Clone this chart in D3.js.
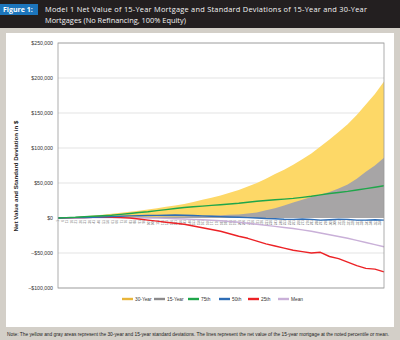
<!DOCTYPE html>
<html>
<head>
<meta charset="utf-8">
<script src="https://cdn.jsdelivr.net/npm/d3@7"></script>
<style>
  html, body { margin: 0; padding: 0; background: #d3cfc8; }
  svg { display: block; }
</style>
</head>
<body>
<div id="chart"></div>
<script>
///////// data //////////
const months      = d3.range(0, 361, 10).map(m => m === 0 ? 1 : m);
const sd30Year    = [0, 700, 1500, 2500, 3500, 4700, 6000, 7500, 9000, 10500, 12000, 14000, 16000, 18000, 20000, 23000, 26000, 29000, 32000, 36000, 40000, 45000, 50000, 56000, 63000, 69000, 76000, 84000, 92000, 102000, 112000, 123000, 134000, 147000, 162000, 177000, 195000];
const sd15Year    = [0, 100, 300, 400, 500, 600, 800, 900, 1000, 1200, 1500, 1700, 2000, 2200, 2500, 2700, 3000, 3500, 4000, 4500, 5000, 6500, 8000, 11000, 14000, 18000, 22000, 26000, 30000, 33500, 37000, 42000, 48000, 56000, 66000, 75000, 86000];
const pct75       = [0, 500, 1000, 1800, 2500, 3200, 4000, 5200, 6500, 7800, 9000, 10500, 12000, 13500, 15000, 16000, 17000, 18000, 19000, 20000, 21000, 22500, 24000, 25000, 26000, 27000, 28000, 29500, 31000, 33000, 35000, 36500, 38000, 40000, 42000, 44000, 46000];
const pct50       = [0, 200, 500, 800, 1000, 1500, 2000, 2500, 3000, 3300, 3500, 3800, 4000, 4200, 4000, 3500, 3000, 2500, 2000, 1500, 1000, 500, 0, -800, -1000, -1800, -2000, -1500, -2000, -3000, -2500, -1800, -2000, -3000, -3000, -2500, -3000];
const pct25       = [0, 300, 500, 800, 1000, 1200, 1000, 500, 0, -1500, -3000, -4500, -6000, -7500, -9000, -11500, -14000, -16500, -19000, -22500, -26000, -29000, -33000, -37000, -40000, -43000, -46000, -48000, -50000, -49000, -55000, -58000, -63000, -68000, -72000, -73000, -77000];
const meanValue   = [0, 0, 0, 300, 500, 500, 500, 500, 500, 300, 0, -200, -500, -1000, -1500, -2000, -2500, -3200, -4000, -5000, -6000, -7500, -9000, -10500, -12000, -13500, -15000, -17000, -19000, -21500, -24000, -26500, -29000, -32000, -35000, -38000, -41000];

const yTicks      = [-100000, -50000, 0, 50000, 100000, 150000, 200000, 250000];
const xTickMonths = d3.range(1, 360, 5);

const seriesLines = [
  {name: "Mean", values: meanValue, color: "#c9b0d8"},
  {name: "25th", values: pct25,     color: "#ec2226"},
  {name: "50th", values: pct50,     color: "#2e6db6"},
  {name: "75th", values: pct75,     color: "#1fa64a"},
];
const legendItems = [
  {name: "30-Year", color: "#e8b53a"},
  {name: "15-Year", color: "#8c8a8b"},
  {name: "75th",    color: "#1fa64a"},
  {name: "50th",    color: "#2e6db6"},
  {name: "25th",    color: "#ec2226"},
  {name: "Mean",    color: "#c9b0d8"},
];

////////////////////// drawing //////////////////////
const W = 400, H = 340;
const svg = d3.select("#chart").append("svg").attr("width", W).attr("height", H);

// header band
svg.append("rect").attr("x", 0).attr("y", 0).attr("width", W).attr("height", 28).attr("fill", "#231f20");
svg.append("rect").attr("x", 0).attr("y", 4).attr("width", 38).attr("height", 11).attr("fill", "#1c75bc");
svg.append("text").attr("x", 3).attr("y", 12.3).attr("fill", "#fff")
  .style("font", "bold 7px 'Open Sans', sans-serif").text("Figure 1:");
svg.append("text").attr("x", 45).attr("y", 12).attr("fill", "#f4f4f4")
  .attr("textLength", 322).attr("lengthAdjust", "spacing")
  .style("font", "7.4px 'Open Sans', sans-serif")
  .text("Model 1 Net Value of 15-Year Mortgage and Standard Deviations of 15-Year and 30-Year");
svg.append("text").attr("x", 45).attr("y", 23).attr("fill", "#f4f4f4")
  .style("font", "7.4px 'Open Sans', sans-serif")
  .text("Mortgages (No Refinancing, 100% Equity)");

// white panel
svg.append("rect").attr("x", 6).attr("y", 33).attr("width", 388).attr("height", 294).attr("fill", "#fff");

// scales
const plot = {left: 58, right: 384, top: 43, bottom: 288};
const x = d3.scaleLinear().domain([1, 360]).range([plot.left, plot.right]);
const y = d3.scaleLinear().domain([-100000, 250000]).range([plot.bottom, plot.top]);

// gridlines
svg.append("g").selectAll("line").data(yTicks.filter(d => d !== 0)).enter().append("line")
  .attr("x1", plot.left).attr("x2", plot.right)
  .attr("y1", d => y(d)).attr("y2", d => y(d))
  .attr("stroke", "#dcdcdc").attr("stroke-width", 0.8);

// y axis labels
const fmt = d => (d < 0 ? "\u2013$" : "$") + d3.format(",")(Math.abs(d));
svg.append("g").selectAll("text").data(yTicks).enter().append("text")
  .attr("x", 53).attr("y", d => y(d) + 1.8)
  .attr("text-anchor", "end").attr("fill", "#333")
  .style("font", "5.2px 'Liberation Sans Narrow', 'Liberation Sans', sans-serif")
  .text(fmt);

// y axis title
svg.append("text")
  .attr("transform", "translate(17.5," + 176 + ") rotate(-90)")
  .attr("text-anchor", "middle").attr("fill", "#222")
  .style("font", "bold 6.2px 'Liberation Sans Narrow', 'Liberation Sans', sans-serif")
  .text("Net Value and Standard Deviation in $");

// areas
const pts = arr => months.map((m, i) => [m, arr[i]]);
const area = d3.area().x(d => x(d[0])).y0(y(0)).y1(d => y(d[1]));
svg.append("path").datum(pts(sd30Year)).attr("d", area).attr("fill", "#fdd867");
svg.append("path").datum(pts(sd15Year)).attr("d", area).attr("fill", "#a7a5a6");

// x tick labels (rotated, just below zero line)
svg.append("g").selectAll("text").data(xTickMonths).enter().append("text")
  .attr("transform", d => "translate(" + (x(d) + 1.1) + "," + (y(0) + 2) + ") rotate(-90)")
  .attr("text-anchor", "end").attr("fill", "#666")
  .style("font", "3.2px 'Liberation Sans', sans-serif")
  .text(d => d);

// lines
const line = d3.line().x(d => x(d[0])).y(d => y(d[1]));
for (let s of seriesLines) {
  svg.append("path").datum(pts(s.values)).attr("d", line)
    .attr("fill", "none").attr("stroke", s.color).attr("stroke-width", 1.4)
    .attr("stroke-linejoin", "round");
}

// plot frame
svg.append("rect").attr("x", plot.left).attr("y", plot.top)
  .attr("width", plot.right - plot.left).attr("height", plot.bottom - plot.top)
  .attr("fill", "none").attr("stroke", "#9a9a9a").attr("stroke-width", 0.8);

// legend
const legendX = [122, 154, 188, 219, 248, 278];
const lg = svg.append("g").selectAll("g").data(legendItems).enter().append("g")
  .attr("transform", (d, i) => "translate(" + legendX[i] + ",299)");
lg.append("rect").attr("x", 0).attr("y", -1.2).attr("width", 11).attr("height", 2.4).attr("fill", d => d.color);
lg.append("text").attr("x", 13).attr("y", 1.7).attr("fill", "#333")
  .style("font", "4.8px 'Liberation Sans Narrow', 'Liberation Sans', sans-serif")
  .text(d => d.name);

// note
svg.append("text").attr("x", 7).attr("y", 336).attr("fill", "#222")
  .attr("textLength", 382).attr("lengthAdjust", "spacingAndGlyphs")
  .style("font", "4.8px 'Liberation Sans Narrow', 'Liberation Sans', sans-serif")
  .text("Note: The yellow and gray areas represent the 30-year and 15-year standard deviations. The lines represent the net value of the 15-year mortgage at the noted percentile or mean.");
</script>
</body>
</html>
